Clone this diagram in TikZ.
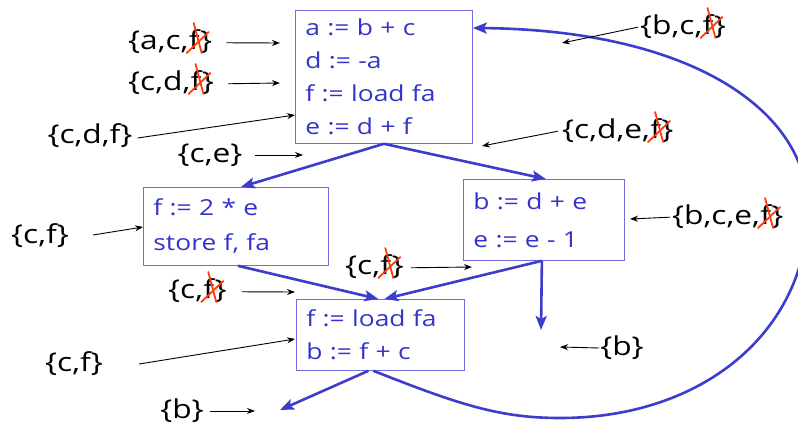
\documentclass[tikz,border=0pt]{standalone}
\usepackage{fontspec}
\setmainfont{Open Sans}
\newfontfamily\lblfam{Open Sans}[FakeStretch=1.22]
\newfontfamily\codefam{Open Sans}[FakeStretch=1.2]
\usetikzlibrary{calc,arrows.meta}
\definecolor{codeblue}{RGB}{51,51,204}
\definecolor{edgeblue}{RGB}{60,60,205}
\definecolor{boxline}{RGB}{110,110,225}
\definecolor{xred}{RGB}{255,60,10}
\newcommand{\lblfont}{\lblfam\fontsize{26}{30}\selectfont}
\newcommand{\codefont}{\codefam\fontsize{22}{33}\selectfont}
\tikzset{
  lbl/.style={inner sep=0pt, font=\lblfont, text=black},
  codebox/.style={draw=boxline, line width=0.8pt, text=codeblue, font=\codefont,
    align=left, inner xsep=10pt, inner ysep=4pt, anchor=north west},
  flow/.style={draw=edgeblue, line width=2.6pt, -{Stealth[length=14pt,width=11pt,inset=3pt]}},
  note/.style={draw=black, line width=0.9pt, -{Stealth[length=8pt,width=6pt]}},
  xcross/.style={draw=xred, line width=1.8pt, line cap=round},
}
% crossed label: #1 name, #2 base-west position, #3 text before f, #4 text after f
\newcommand{\xlbl}[4]{%
  \node[lbl, anchor=base west] (#1a) at #2 {#3};
  \node[lbl, anchor=base west] (#1f) at (#1a.base east) {f};
  \node[lbl, anchor=base west] (#1b) at (#1f.base east) {#4};
  \draw[xcross] ($(#1f.base west)+(-2,3)$) -- ++(22,-21);
  \draw[xcross] ($(#1f.base west)+(5,-27)$) -- ++(8,30);
}
\begin{document}
\begin{tikzpicture}[x=1pt,y=-1pt]
\useasboundingbox (0,0) rectangle (798,430);
% boxes
\node[codebox, text width=157pt, minimum height=133pt] (b1) at (295,10)
  {a := b + c\\ d := -a\\ f := load fa\\ e := d + f};
\node[codebox, text width=165pt, minimum height=78pt, font=\codefam\fontsize{22}{35}\selectfont] (b2) at (143,187)
  {f := 2 * e\\ store f, fa};
\node[codebox, text width=141pt, minimum height=81pt, font=\codefam\fontsize{22}{38}\selectfont] (b3) at (463,179)
  {b := d + e\\ e := e - 1};
\node[codebox, text width=148pt, minimum height=71pt] (b4) at (296,299)
  {f := load fa\\ b := f + c};
% free ends
\coordinate (b3out) at (541,330);
\coordinate (b4out) at (280,410);
% flow edges
\draw[flow] (b1.south) -- ($(b2.north)+(5,0)$);
\draw[flow] (b1.south) -- ($(b3.north)+(2,0)$);
\draw[flow] ($(b2.south)+(2,0)$) -- ($(b4.north)+(-2,0)$);
\draw[flow] ($(b3.south)+(-2,0)$) -- ($(b4.north)+(4,0)$);
\draw[flow] ($(b3.south)+(-2,0)$) -- (b3out);
\draw[flow] ($(b4.south)+(-12,0)$) -- (b4out);
\draw[flow] ($(b4.south)+(-7,0)$) .. controls (460,405) and (500,418) .. (560,418)
  .. controls (705,418) and (806,330) .. (808,212)
  .. controls (810,110) and (690,30) .. ($(b1.north east)+(0,18)$);
% annotation points
\coordinate (p1) at (280,43);
\coordinate (p2) at (280,83);
\coordinate (p3) at (295,115);
\coordinate (p4) at (303,155);
\coordinate (p5) at (562,43);
\coordinate (p6) at (482,146);
\coordinate (p7) at (143,227);
\coordinate (p8) at (472,267);
\coordinate (p9) at (295,292);
\coordinate (p10) at (295,339);
\coordinate (p11) at (255,411);
\coordinate (p12) at (630,219);
\coordinate (p13) at (560,347);
% labels
\xlbl{l1}{(128,50)}{\{a,c,}{\}}
\xlbl{l2}{(128,91)}{\{c,d,}{\}}
\node[lbl] (l3) at (90,136) {\{c,d,f\}};
\node[lbl] (l4) at (210,155) {\{c,e\}};
\xlbl{l5}{(640,35)}{\{b,c,}{\}}
\xlbl{l6}{(562,139)}{\{c,d,e,}{\}}
\node[lbl] (l7) at (40,236) {\{c,f\}};
\xlbl{l8}{(345,275)}{\{c,}{\}}
\xlbl{l9}{(168,299)}{\{c,}{\}}
\node[lbl] (l10) at (74,364) {\{c,f\}};
\node[lbl] (l11) at (182,411) {\{b\}};
\xlbl{l12}{(672,225)}{\{b,c,e,}{\}}
\node[lbl] (l13) at (622,348) {\{b\}};
% annotation arrows
\draw[note] ($(l1b.east)+(14,0)$) -- (p1);
\draw[note] ($(l2b.east)+(14,0)$) -- (p2);
\draw[note] ($(l3.east)+(5,2)$) -- (p3);
\draw[note] ($(l4.east)+(12,0)$) -- (p4);
\draw[note] ($(l5a.west)+(-2,0)$) -- (p5);
\draw[note] ($(l6a.west)+(-4,0)$) -- (p6);
\draw[note] ($(l7.east)+(24,-1)$) -- (p7);
\draw[note] ($(l8b.east)+(7,0)$) -- (p8);
\draw[note] ($(l9b.east)+(15,0)$) -- (p9);
\draw[note] ($(l10.east)+(36,0)$) -- (p10);
\draw[note] ($(l11.east)+(6,0)$) -- (p11);
\draw[note] ($(l12a.west)+(-2,0)$) -- (p12);
\draw[note] ($(l13.west)+(-1,0)$) -- (p13);
\end{tikzpicture}
\end{document}
